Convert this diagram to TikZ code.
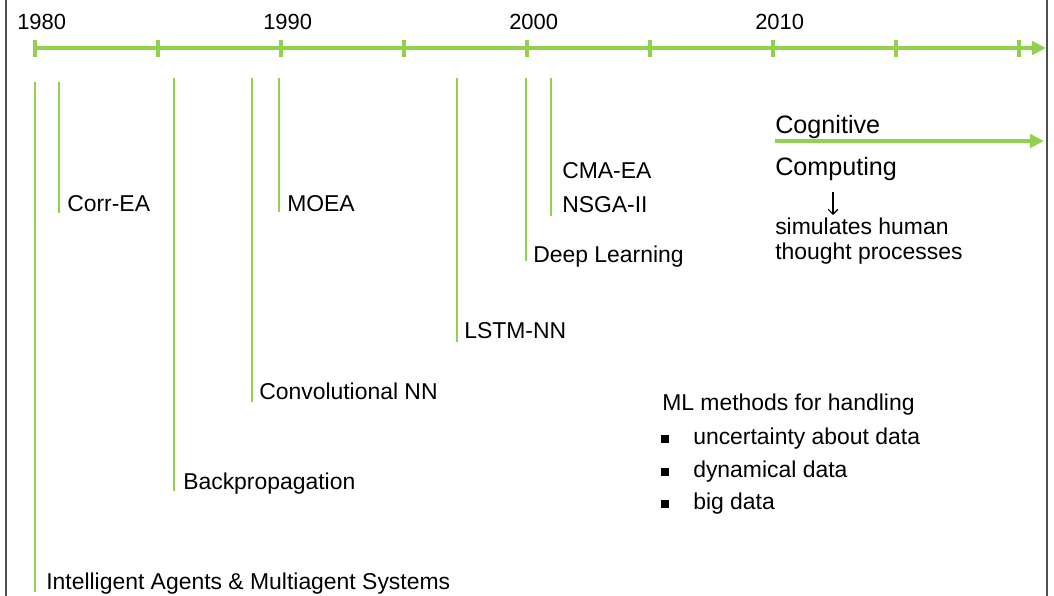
\documentclass[tikz,border=0pt]{standalone}
\usepackage{fontspec}
\setmainfont{Liberation Sans}
\usetikzlibrary{arrows.meta}
\definecolor{tlgreen}{RGB}{146,208,80}
\definecolor{framegray}{RGB}{80,80,80}
\tikzset{
  axis/.style={tlgreen, line width=2.8pt},
  event/.style={tlgreen, line width=1.1pt},
  evtext/.style={anchor=base west, inner sep=0pt},
  bigtext/.style={evtext, font=\fontsize{17.9}{21}\selectfont},
  yeartext/.style={evtext, font=\fontsize{15.6}{18}\selectfont}
}

\begin{document}
\begin{tikzpicture}[line cap=butt, line join=round, >={Triangle[length=10pt,width=9.5pt]}, x=0.025cm, y=-0.025cm, font=\fontsize{16.3}{19}\selectfont]
\useasboundingbox (0,0) rectangle (1054,596);
\draw[framegray, line width=1.3pt] (6,0)--(6,596) (1047,0)--(1047,596);
\coordinate (tstart) at (35,48);
\coordinate (tend) at (1046,48);
\draw[axis,->] (tstart) -- (tend);
\foreach \i in {0,...,8}
  \draw[axis] (35+\i*123,40.5) -- (35+\i*123,57.5);
\foreach \yr [count=\k from 0] in {1980,1990,2000,2010}
  \node[yeartext] (y\yr) at (17+\k*246,30) {\yr};
\foreach \x/\top/\bot in {35/82/592, 59/82/213, 174/78/491, 252/78/402, 279/78/212, 457/78/342, 526/78/261, 551/78/216}
  \draw[event] (\x,\top) -- (\x,\bot);
\node[evtext] (ia) at (46,589) {Intelligent Agents \& Multiagent Systems};
\node[evtext] (corr) at (67,212) {Corr-EA};
\node[evtext] (backprop) at (183,490) {Backpropagation};
\node[evtext] (cnn) at (259,400) {Convolutional NN};
\node[evtext] (moea) at (287,212) {MOEA};
\node[evtext] (lstm) at (464,339) {LSTM-NN};
\node[evtext] (deep) at (533,263) {Deep Learning};
\node[evtext] (cma) at (562,179) {CMA-EA};
\node[evtext] (nsga) at (562,213) {NSGA-II};
\node[bigtext] (cog) at (775,134) {Cognitive};
\node[bigtext] (comp) at (775,176) {Computing};
\coordinate (cogstart) at (775,141);
\coordinate (cogend) at (1044,141);
\draw[axis,->] (cogstart) -- (cogend);
\coordinate (arrtop) at (833,192);
\coordinate (arrbot) at (833,215);
\draw[line width=0.8pt, -{Straight Barb[length=3.5pt,width=7pt]}] (arrtop) -- (arrbot);
\node[evtext] (sim) at (775,235) {simulates human};
\node[evtext] (thought) at (775,260) {thought processes};
\node[evtext] (ml) at (662,411) {ML methods for handling};
\foreach \yy/\txt [count=\k] in {445/uncertainty about data, 478/dynamical data, 510/big data} {
  \node[fill, inner sep=0pt, minimum size=5pt] (bul\k) at (665,\yy-6) {};
  \node[evtext] (item\k) at (693,\yy) {\txt};
}
\end{tikzpicture}
\end{document}
